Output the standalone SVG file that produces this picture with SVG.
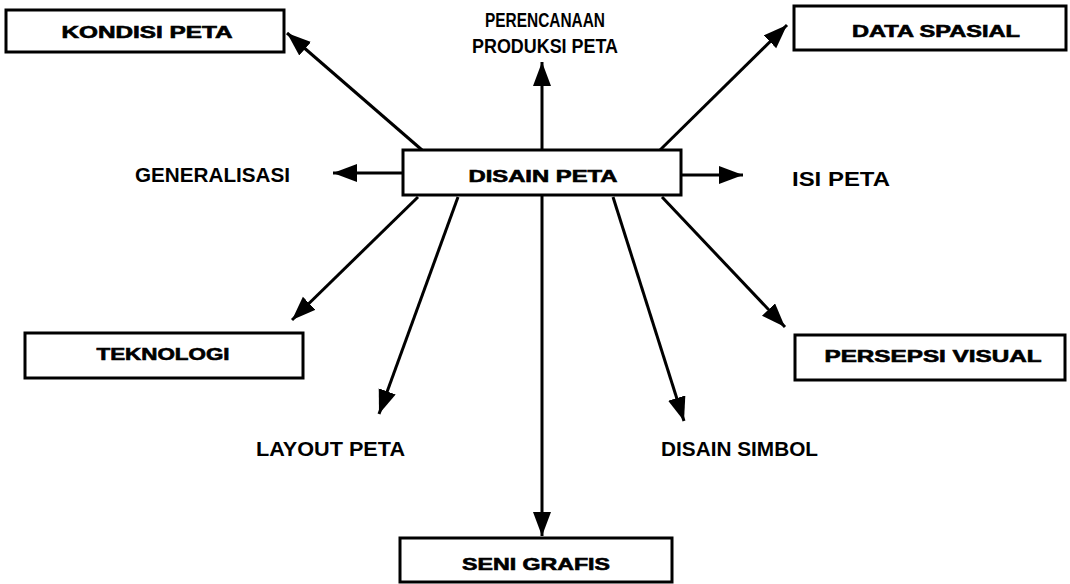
<svg xmlns="http://www.w3.org/2000/svg" width="1070" height="584" viewBox="0 0 1070 584">
<style>
.box{fill:#fff;stroke:#000;stroke-width:3}
.bl{font-family:"Liberation Sans",Arial,sans-serif;font-weight:bold;font-size:16px;fill:#000;stroke:#000;stroke-width:0.6;text-anchor:middle}
.pl{font-family:"Liberation Sans",Arial,sans-serif;font-weight:bold;font-size:21px;fill:#000}
.c{stroke:#000;stroke-width:3;fill:none;marker-end:url(#ah)}
</style>
<defs>
<marker id="ah" markerUnits="userSpaceOnUse" markerWidth="26" markerHeight="20" refX="24" refY="9" orient="auto">
<path d="M0,0 L24,9 L0,18 z" fill="#000"/>
</marker>
</defs>
<rect width="1070" height="584" fill="#fff"/>
<g id="connectors">
<line class="c" x1="422" y1="150" x2="287" y2="33"/>
<line class="c" x1="542" y1="150" x2="542" y2="62"/>
<line class="c" x1="658" y1="152" x2="787" y2="25"/>
<line class="c" x1="403" y1="173" x2="333" y2="173"/>
<line class="c" x1="681" y1="175" x2="743" y2="175"/>
<line class="c" x1="418" y1="197" x2="292" y2="320"/>
<line class="c" x1="458" y1="197" x2="379" y2="414"/>
<line class="c" x1="542" y1="195" x2="542" y2="536"/>
<line class="c" x1="613" y1="197" x2="684" y2="421"/>
<line class="c" x1="662" y1="197" x2="785" y2="327"/>
</g>
<g id="disain-peta">
<rect class="box" x="403" y="150" width="278" height="45"/>
<text class="bl" x="543" y="182" font-size="17" textLength="149" lengthAdjust="spacingAndGlyphs">DISAIN PETA</text>
</g>
<g id="kondisi-peta">
<rect class="box" x="6" y="10" width="278" height="42"/>
<text class="bl" x="147" y="38" textLength="171" lengthAdjust="spacingAndGlyphs">KONDISI PETA</text>
</g>
<g id="data-spasial">
<rect class="box" x="794" y="6" width="272" height="44"/>
<text class="bl" x="936" y="37" textLength="168" lengthAdjust="spacingAndGlyphs">DATA SPASIAL</text>
</g>
<g id="teknologi">
<rect class="box" x="25" y="333" width="278" height="45"/>
<text class="bl" x="163" y="360" textLength="133" lengthAdjust="spacingAndGlyphs">TEKNOLOGI</text>
</g>
<g id="persepsi-visual">
<rect class="box" x="795" y="335" width="270" height="45"/>
<text class="bl" x="933" y="362" textLength="217" lengthAdjust="spacingAndGlyphs">PERSEPSI VISUAL</text>
</g>
<g id="seni-grafis">
<rect class="box" x="400" y="538" width="272" height="44"/>
<text class="bl" x="536" y="570" textLength="148" lengthAdjust="spacingAndGlyphs">SENI GRAFIS</text>
</g>
<g id="perencanaan">
<text class="pl" x="545" y="27" font-size="20" text-anchor="middle" textLength="120" lengthAdjust="spacingAndGlyphs">PERENCANAAN</text>
<text class="pl" x="545" y="53" font-size="20" text-anchor="middle" textLength="146" lengthAdjust="spacingAndGlyphs">PRODUKSI PETA</text>
</g>
<g id="generalisasi">
<text class="pl" x="135" y="182" font-size="22" textLength="155" lengthAdjust="spacingAndGlyphs">GENERALISASI</text>
</g>
<g id="isi-peta">
<text class="pl" x="792" y="186" font-size="22" textLength="98" lengthAdjust="spacingAndGlyphs">ISI PETA</text>
</g>
<g id="layout-peta">
<text class="pl" x="256" y="456" font-size="20" textLength="149" lengthAdjust="spacingAndGlyphs">LAYOUT PETA</text>
</g>
<g id="disain-simbol">
<text class="pl" x="661" y="456" font-size="20" textLength="157" lengthAdjust="spacingAndGlyphs">DISAIN SIMBOL</text>
</g>
</svg>
